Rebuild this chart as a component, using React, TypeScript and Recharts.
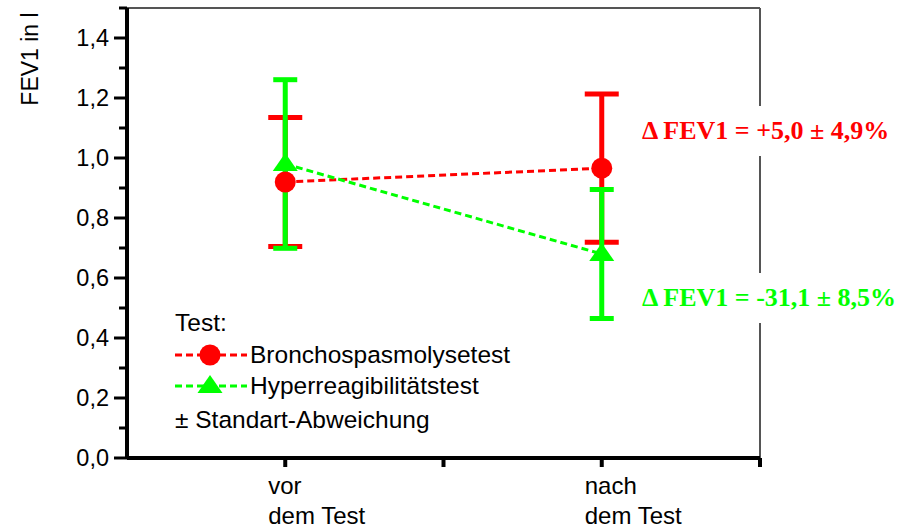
import {
  ComposedChart,
  ErrorBar,
  Legend,
  Line,
  ReferenceLine,
  XAxis,
  YAxis,
} from 'recharts'

// x positions of the two measurements on a 0..4 axis
const positions = [1, 3]
const xTicks = [0, 1, 2, 3, 4]
const xTickTop = ['', 'vor', '', 'nach', '']
const xTickBottom = ['', 'dem Test', '', 'dem Test', '']
const yTicks = [0, 0.1, 0.2, 0.3, 0.4, 0.5, 0.6, 0.7, 0.8, 0.9, 1.0, 1.1, 1.2, 1.3, 1.4, 1.5]

const bronchoMean = [0.92, 0.966]
const bronchoSd = [0.215, 0.247]
const hyperMean = [0.98, 0.68]
const hyperSd = [0.281, 0.215]

const seriesNames = ['Bronchospasmolysetest', 'Hyperreagibilitätstest']
const deltaLabels = ['Δ FEV1 = +5,0 ± 4,9%', 'Δ FEV1 = -31,1 ± 8,5%']

const RED = '#ff0000'
const GREEN = '#00ff00'
const SANS = '"Liberation Sans", Arial, sans-serif'
const SERIF = '"Liberation Serif", "Times New Roman", serif'

const data = positions.map((x, i) => ({
  x,
  broncho: bronchoMean[i],
  bronchoErr: bronchoSd[i],
  hyper: hyperMean[i],
  hyperErr: hyperSd[i],
}))

const fmt = (v: number) => v.toFixed(1).replace('.', ',')

const YTick = ({ x, y, payload }: any) => {
  const v = payload.value as number
  const major = Math.round(v * 10) % 2 === 0
  return (
    <g>
      <line x1={x - (major ? 13 : 8)} x2={x} y1={y} y2={y} stroke="#000" strokeWidth={3} />
      {major && (
        <text x={x - 18} y={y} dy="0.36em" textAnchor="end" fontSize={23.5} fontFamily={SANS} fill="#000">
          {fmt(v)}
        </text>
      )}
    </g>
  )
}

// labels are left-aligned a bit left of the tick, as in the original
const XTick = ({ x, y, payload }: any) => {
  const i = xTicks.indexOf(payload.value)
  if (i <= 0) return null
  return (
    <g>
      <line x1={x} x2={x} y1={y} y2={y + 9} stroke="#000" strokeWidth={4} />
      <text x={x - 17} y={y + 36} fontSize={24} fontFamily={SANS} fill="#000">
        {xTickTop[i]}
      </text>
      <text x={x - 17} y={y + 66} fontSize={24} fontFamily={SANS} fill="#000">
        {xTickBottom[i]}
      </text>
    </g>
  )
}

const Circle = ({ cx, cy, index }: any) => (
  <circle key={`c${index}`} cx={cx} cy={cy} r={10.5} fill={RED} />
)

const Triangle = ({ cx, cy, index }: any) => (
  <polygon
    key={`t${index}`}
    points={`${cx},${cy - 11} ${cx - 12.5},${cy + 7} ${cx + 12.5},${cy + 7}`}
    fill={GREEN}
  />
)

const LegendMark = ({ color, shape }: { color: string; shape: 'circle' | 'triangle' }) => (
  <svg width={72} height={26} style={{ display: 'block' }}>
    <line x1={0} x2={72} y1={13} y2={13} stroke={color} strokeWidth={3} strokeDasharray="7 4" />
    {shape === 'circle' ? (
      <circle cx={35} cy={13} r={10.5} fill={color} />
    ) : (
      <polygon points="35,2 22.5,20 47.5,20" fill={color} />
    )}
  </svg>
)

const renderLegend = () => (
  <div style={{ fontFamily: SANS, fontSize: 24.5, color: '#000', lineHeight: '30px' }}>
    <div style={{ height: 31 }}>Test:</div>
    <div style={{ display: 'flex', alignItems: 'center', height: 31 }}>
      <LegendMark color={RED} shape="circle" />
      <span style={{ marginLeft: 3 }}>{seriesNames[0]}</span>
    </div>
    <div style={{ display: 'flex', alignItems: 'center', height: 31 }}>
      <LegendMark color={GREEN} shape="triangle" />
      <span style={{ marginLeft: 3 }}>{seriesNames[1]}</span>
    </div>
    <div style={{ height: 34, paddingTop: 4 }}>± Standart-Abweichung</div>
  </div>
)

const YLabel = () => (
  <text
    transform="translate(38,59) rotate(-90)"
    textAnchor="middle"
    fontSize={23}
    fontFamily={SANS}
    fill="#000"
  >
    FEV1 in l
  </text>
)

const deltaStyle = (color: string, top: number) => ({
  position: 'absolute' as const,
  left: 638,
  top,
  height: 50,
  lineHeight: '50px',
  padding: '0 4px',
  background: '#fff',
  color,
  fontFamily: SERIF,
  fontWeight: 700,
  fontSize: 26,
  whiteSpace: 'nowrap' as const,
})

export default function App() {
  return (
    <div style={{ position: 'absolute', left: 0, top: 0, width: 911, height: 529, background: '#fff' }}>
      <ComposedChart
        width={911}
        height={529}
        data={data}
        margin={{ top: 8, right: 151, bottom: 0, left: 0 }}
      >
        <XAxis
          type="number"
          dataKey="x"
          domain={[0, 4]}
          ticks={xTicks}
          interval={0}
          axisLine={{ stroke: '#000', strokeWidth: 4 }}
          tickLine={false}
          tickSize={0}
          tickMargin={0}
          tick={<XTick />}
          height={71}
        />
        <YAxis
          type="number"
          domain={[0, 1.5]}
          ticks={yTicks}
          interval={0}
          allowDataOverflow
          axisLine={{ stroke: '#000', strokeWidth: 4 }}
          tickLine={false}
          tickSize={0}
          tickMargin={0}
          tick={<YTick />}
          width={127}
          label={<YLabel />}
        />
        <ReferenceLine y={1.5} stroke="#555" strokeWidth={2} />
        <ReferenceLine x={4} stroke="#555" strokeWidth={2} />
        <Line
          dataKey="broncho"
          stroke={RED}
          strokeWidth={3}
          strokeDasharray="7 4"
          dot={<Circle />}
          activeDot={false}
          isAnimationActive={false}
        />
        <Line
          dataKey="hyper"
          stroke={GREEN}
          strokeWidth={3}
          strokeDasharray="7 4"
          dot={<Triangle />}
          activeDot={false}
          isAnimationActive={false}
        />
        <Line dataKey="broncho" stroke="none" dot={false} activeDot={false} legendType="none" isAnimationActive={false}>
          <ErrorBar dataKey="bronchoErr" direction="y" width={17} strokeWidth={5} stroke={RED} isAnimationActive={false} />
        </Line>
        <Line dataKey="hyper" stroke="none" dot={false} activeDot={false} legendType="none" isAnimationActive={false}>
          <ErrorBar dataKey="hyperErr" direction="y" width={12} strokeWidth={5} stroke={GREEN} isAnimationActive={false} />
        </Line>
        <Legend
          layout="vertical"
          align="center"
          verticalAlign="middle"
          content={renderLegend}
          wrapperStyle={{ left: 175, top: 308, width: 360 }}
        />
      </ComposedChart>
      <div style={deltaStyle(RED, 106)}>{deltaLabels[0]}</div>
      <div style={deltaStyle(GREEN, 273)}>{deltaLabels[1]}</div>
    </div>
  )
}
